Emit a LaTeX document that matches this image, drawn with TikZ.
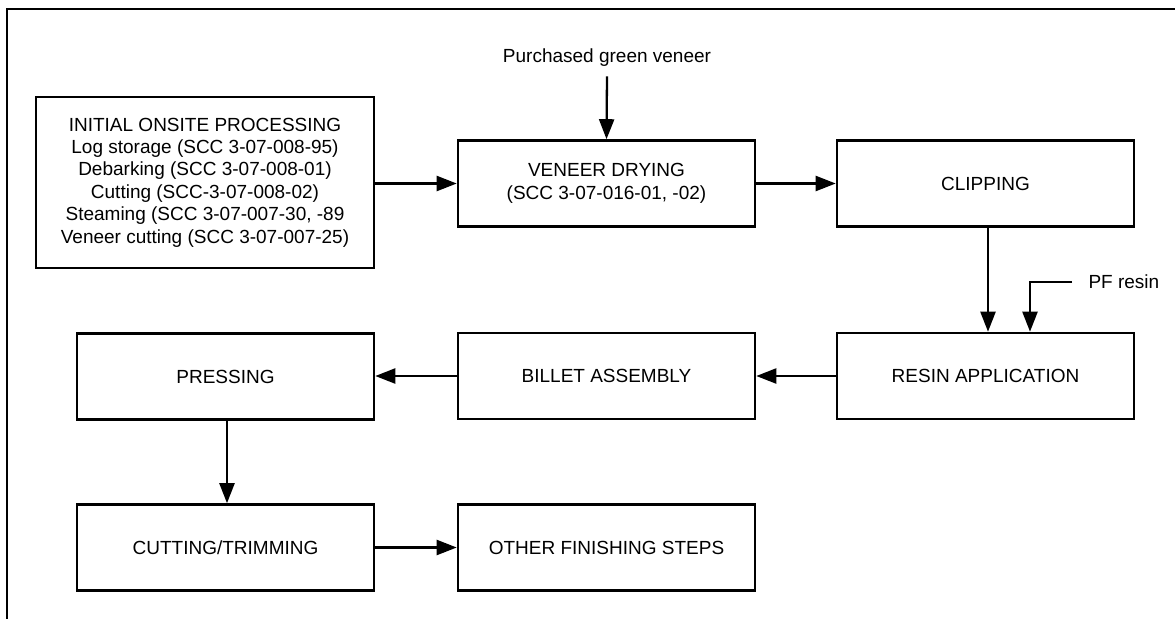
\documentclass[tikz,border=0pt]{standalone}
\usepackage{fontspec}
\setmainfont{Liberation Sans}
\usetikzlibrary{arrows.meta}

\begin{document}
\begin{tikzpicture}[x=1pt, y=-1pt,
  font=\fontsize{19}{23}\selectfont,
  stepbox/.style={draw, line width=2.6pt, minimum width=297pt, minimum height=86pt, align=center, inner sep=0pt},
  flow/.style={line width=2.3pt, -{Triangle[length=20pt,width=15pt]}}]

\useasboundingbox (0,0) rectangle (1175,619);
\draw[line width=2.6pt] (1175,9) -- (7,9) -- (7,619);

\node[stepbox, minimum width=338pt, minimum height=171pt, font=\fontsize{19}{22.4}\selectfont] (init) at (205,182.5)
  {INITIAL ONSITE PROCESSING\\Log storage (SCC 3-07-008-95)\\Debarking (SCC 3-07-008-01)\\Cutting (SCC-3-07-008-02)\\Steaming (SCC 3-07-007-30, -89\\Veneer cutting (SCC 3-07-007-25)};

\node[stepbox] (dry) at (606.5,183.5) {VENEER DRYING\\(SCC 3-07-016-01, -02)};
\node[stepbox] (clip) at (985.5,183.5) {CLIPPING};
\node[stepbox] (resin) at (985.5,376) {RESIN APPLICATION};
\node[stepbox] (billet) at (606.5,376) {BILLET ASSEMBLY};
\node[stepbox] (press) at (225.5,376.5) {PRESSING};
\node[stepbox] (trim) at (225.5,547.5) {CUTTING/TRIMMING};
\node[stepbox] (finish) at (606.5,547.5) {OTHER FINISHING STEPS};

\node (buy) at (607,58) {Purchased green veneer};
\node[anchor=west] (pf) at (1085,282) {PF resin};

\draw[flow] (init.east |- dry.west) -- (dry.west);
\draw[flow] ([yshift=-6]buy.south) -- (dry.north);
\draw[flow] (dry) -- (clip);
\draw[flow] ([xshift=2.5]clip.south) -- ([xshift=2.5]resin.north);
\draw[flow] ([xshift=-13]pf.west) -| ([xshift=44.5]resin.north);
\draw[flow] (resin) -- (billet);
\draw[flow] (billet) -- (billet -| press.east);
\draw[flow] ([xshift=1.5]press.south) -- ([xshift=1.5]trim.north);
\draw[flow] (trim) -- (finish);

\end{tikzpicture}
\end{document}
